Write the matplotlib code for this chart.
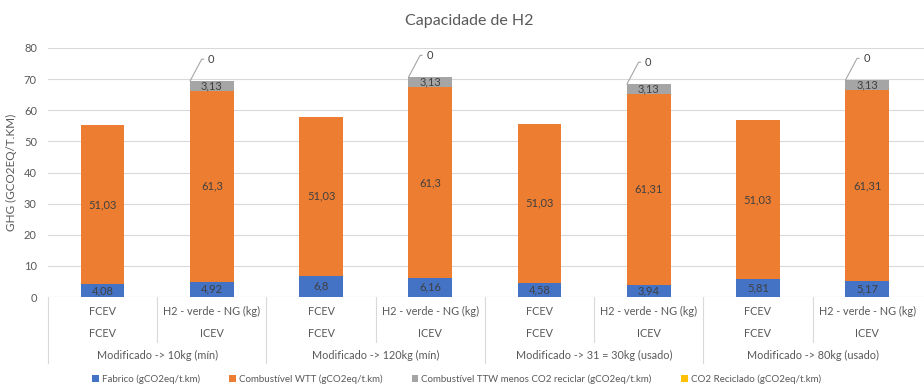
import matplotlib.pyplot as plt
import numpy as np

plt.rcParams['font.family'] = ['Lato', 'DejaVu Sans']

# dados
veiculo = ["FCEV", "H2 - verde - NG (kg)"] * 4
tipo = ["FCEV", "ICEV"] * 4
cenarios = ["Modificado -> 10kg (mín)", "Modificado -> 120kg (mín)",
            "Modificado -> 31 = 30kg (usado)", "Modificado -> 80kg (usado)"]

fabrico = [4.08, 4.92, 6.8, 6.16, 4.58, 3.94, 5.81, 5.17]
wtt = [51.03, 61.3, 51.03, 61.3, 51.03, 61.31, 51.03, 61.31]
ttw = [0, 3.13, 0, 3.13, 0, 3.13, 0, 3.13]
reciclado = [0, 0, 0, 0, 0, 0, 0, 0]
tem_ttw = [False, True, False, True, False, True, False, True]

nomes = ["Fabrico (gCO2eq/t.km)", "Combustível WTT (gCO2eq/t.km)",
         "Combustível TTW menos CO2 reciclar (gCO2eq/t.km)", "CO2 Reciclado (gCO2eq/t.km)"]
cores = ["#4472C4", "#ED7D31", "#A5A5A5", "#FFC000"]
cor_texto = "#595959"


def fmt(v):
    return ("%g" % v).replace(".", ",")


fig = plt.figure(figsize=(9.24, 3.85), dpi=100)
ax = fig.add_axes([48 / 924, 1 - 297 / 385, 876 / 924, 249 / 385])

x = np.arange(len(fabrico))
largura = 0.4
base = np.zeros(len(x))
series = [fabrico, wtt, ttw, reciclado]
barras = []
for vals, nome, cor in zip(series, nomes, cores):
    b = ax.bar(x, vals, largura, bottom=base, color=cor, label=nome, zorder=2)
    barras.append(b)
    base = base + np.array(vals)

# rotulos
for i in x:
    ax.text(i, fabrico[i] / 2, fmt(fabrico[i]), ha="center", va="center",
            fontsize=8, color="#404040", zorder=3)
    ax.text(i, fabrico[i] + wtt[i] / 2, fmt(wtt[i]), ha="center", va="center",
            fontsize=8, color="#404040", zorder=3)
    if tem_ttw[i]:
        ax.text(i, fabrico[i] + wtt[i] + ttw[i] / 2, fmt(ttw[i]), ha="center",
                va="center", fontsize=8, color="#404040", zorder=3)
        topo = fabrico[i] + wtt[i] + ttw[i]
        ax.annotate(fmt(reciclado[i]), xy=(i - largura / 2, topo),
                    xytext=(18, 22), textcoords="offset pixels",
                    ha="left", va="center", fontsize=8, color="#404040",
                    arrowprops=dict(arrowstyle="-", color="#A6A6A6", lw=0.8,
                                    shrinkA=1, shrinkB=0,
                                    connectionstyle="angle,angleA=0,angleB=62,rad=0"))

ax.set_xlim(-0.5, len(x) - 0.5 + 0.02)
ax.set_ylim(0, 80)
ax.set_yticks(range(0, 81, 10))
ax.tick_params(axis="y", length=0, labelsize=8, labelcolor=cor_texto, pad=8)
ax.set_xticks([])
ax.grid(axis="y", color="#D9D9D9", lw=0.8, zorder=0)
for s in ax.spines.values():
    s.set_visible(False)
ax.axhline(0, color="#D9D9D9", lw=0.8, zorder=1)
ax.set_ylabel("GHG (GCO2EQ/T.KM)", fontsize=8.5, color=cor_texto, labelpad=5)

# eixo de categorias em varios niveis
tr = ax.get_xaxis_transform()
for i in x:
    ax.text(i, -0.060, veiculo[i], transform=tr, ha="center", va="center",
            fontsize=7.8, color=cor_texto)
    ax.text(i, -0.145, tipo[i], transform=tr, ha="center", va="center",
            fontsize=7.8, color=cor_texto)
for g, nome in enumerate(cenarios):
    ax.text(2 * g + 0.5, -0.233, nome, transform=tr, ha="center", va="center",
            fontsize=7.8, color=cor_texto)
for k in range(len(x)):
    xs = k - 0.5
    y1 = -0.265 if k % 2 == 0 else -0.181
    ax.plot([xs, xs], [0, y1], transform=tr, color="#D9D9D9", lw=0.8, clip_on=False)

fig.text(0.508, 0.945, "Capacidade de H2", ha="center", va="center",
         fontsize=11.5, color=cor_texto)
fig.legend(handles=barras, loc="center", bbox_to_anchor=(0.494, 0.015), ncol=4,
           frameon=False, fontsize=7, handlelength=0.7, handleheight=0.7,
           handletextpad=0.3, columnspacing=3.0, labelcolor=cor_texto)

fig.savefig("out.png", dpi=100)
